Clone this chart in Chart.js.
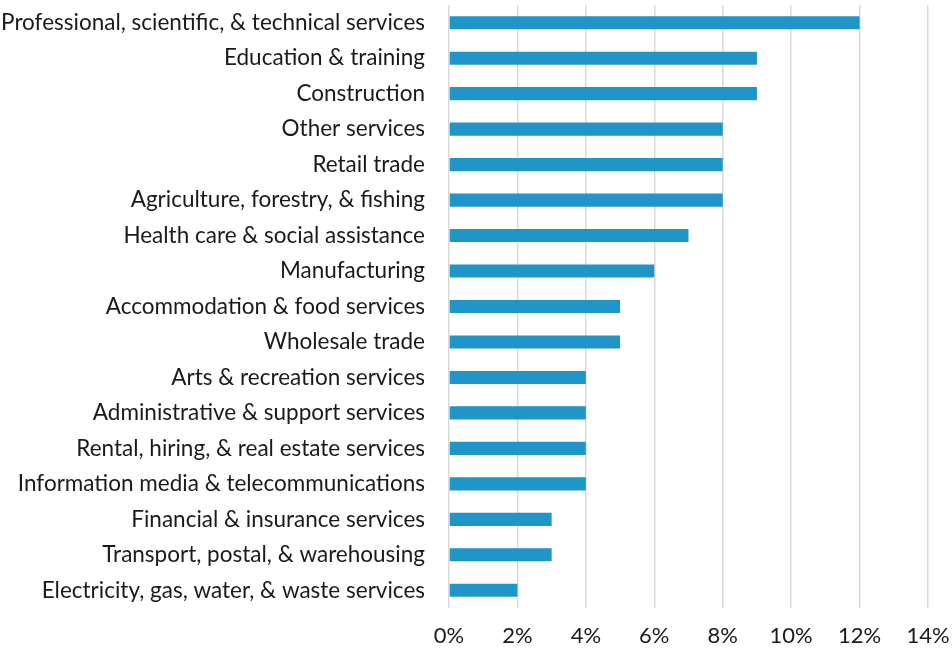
<!DOCTYPE html>
<html>
<head>
<meta charset="utf-8">
<script src="https://cdn.jsdelivr.net/npm/chart.js@4/dist/chart.umd.min.js"></script>
<style>
  body { margin: 0; background: #fff; }
</style>
</head>
<body>
<canvas id="industryChart" width="952" height="652"></canvas>
<script>
const industries = [
  'Professional, scientific, & technical services',
  'Education & training',
  'Construction',
  'Other services',
  'Retail trade',
  'Agriculture, forestry, & fishing',
  'Health care & social assistance',
  'Manufacturing',
  'Accommodation & food services',
  'Wholesale trade',
  'Arts & recreation services',
  'Administrative & support services',
  'Rental, hiring, & real estate services',
  'Information media & telecommunications',
  'Financial & insurance services',
  'Transport, postal, & warehousing',
  'Electricity, gas, water, & waste services',
];
const shares = [12, 9, 9, 8, 8, 8, 7, 6, 5, 5, 4, 4, 4, 4, 3, 3, 2];
const xTicks = [0, 2, 4, 6, 8, 10, 12, 14];

const fontFamily = 'Lato, "Open Sans", sans-serif';

new Chart(document.getElementById('industryChart'), {
  type: 'bar',
  data: {
    labels: industries,
    datasets: [{
      data: shares,
      backgroundColor: '#1f95c8',
      barPercentage: 0.37,
      categoryPercentage: 1,
    }],
  },
  options: {
    indexAxis: 'y',
    responsive: false,
    animation: false,
    layout: { padding: { top: 5, right: 24, left: 0, bottom: 0 } },
    plugins: {
      legend: { display: false },
      tooltip: { enabled: false },
    },
    scales: {
      x: {
        min: xTicks[0],
        max: xTicks[xTicks.length - 1],
        afterBuildTicks: scale => {
          scale.ticks = xTicks.map(v => ({ value: v }));
        },
        afterFit: scale => {
          // keep the label padding from eating into the plot area
          scale.height = 44;
          scale.paddingLeft = 0;
          scale.paddingRight = 0;
        },
        ticks: {
          padding: 15,
          color: '#1a1a1a',
          font: { family: fontFamily, size: 22 },
          callback: v => v + '%',
        },
        grid: { color: '#d9d9d9', lineWidth: 1.5, drawTicks: false },
        border: { display: false },
      },
      y: {
        afterFit: scale => {
          scale.width = 449;
          scale.paddingTop = 0;
          scale.paddingBottom = 0;
        },
        ticks: {
          padding: 24,
          color: '#1a1a1a',
          font: { family: fontFamily, size: 22.5 },
        },
        grid: { display: false, drawTicks: false },
        border: { display: false },
      },
    },
  },
});
</script>
</body>
</html>
